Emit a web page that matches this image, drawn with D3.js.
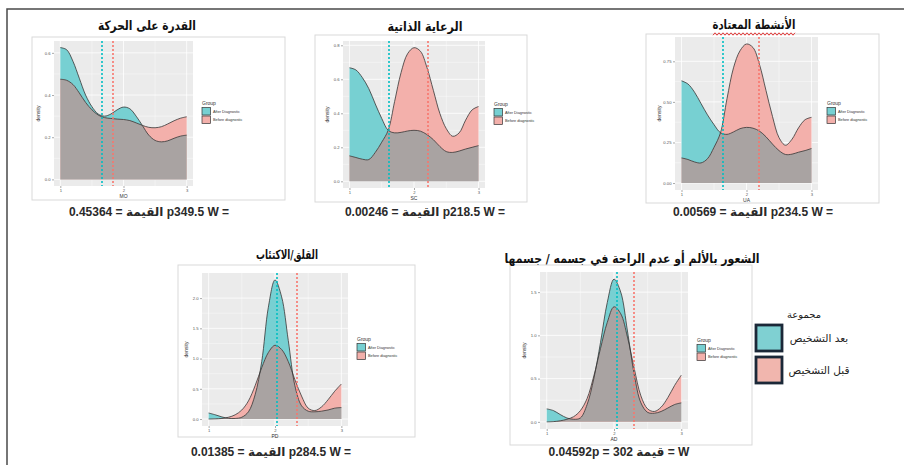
<!DOCTYPE html>
<html>
<head>
<meta charset="utf-8">
<script src="https://cdn.jsdelivr.net/npm/d3@7"></script>
<style>
  body { margin: 0; background: #fff; }
  svg { display: block; }
</style>
</head>
<body>
<div id="chart"></div>
<script>
// ---- data ----
// x positions where the density curves were read (same for every panel)
const gridX = [1.0, 1.1, 1.2, 1.3, 1.4, 1.5, 1.6, 1.7, 1.8, 1.9, 2.0,
               2.1, 2.2, 2.3, 2.4, 2.5, 2.6, 2.7, 2.8, 2.9, 3.0];

const panelVars = ["MO", "SC", "UA", "PD", "AD"];
const panelTitles = [
  "القدرة على الحركة",
  "الرعاية الذاتية",
  "الأنشطة المعتادة",
  "القلق/الاكتئاب",
  "الشعور بالألم أو عدم الراحة في جسمه / جسمها"
];
const captions = [
  "0.45364 = القيمة p349.5 W =",
  "0.00246 = القيمة p218.5 W =",
  "0.00569 = القيمة p234.5 W =",
  "0.01385 = القيمة p284.5 W =",
  "0.04592p =  302 قيمة = W"
];

// After Diagnostic densities
const afterMO = [0.625, 0.615, 0.56, 0.48, 0.40, 0.345, 0.31, 0.30, 0.31, 0.33, 0.343,
                 0.335, 0.30, 0.255, 0.21, 0.185, 0.178, 0.183, 0.195, 0.205, 0.21];
const afterSC = [0.668, 0.655, 0.61, 0.545, 0.455, 0.37, 0.30, 0.285, 0.288, 0.296, 0.30,
                 0.295, 0.275, 0.245, 0.205, 0.175, 0.17, 0.178, 0.19, 0.20, 0.21];
const afterUA = [0.63, 0.61, 0.56, 0.49, 0.42, 0.36, 0.31, 0.30, 0.315, 0.335, 0.343,
                 0.338, 0.32, 0.285, 0.24, 0.20, 0.176, 0.178, 0.19, 0.20, 0.213];
const afterPD = [0.10, 0.07, 0.035, 0.012, 0.01, 0.03, 0.12, 0.40, 0.95, 1.85, 2.30,
                 2.02, 1.30, 0.55, 0.22, 0.13, 0.12, 0.13, 0.15, 0.18, 0.19];
const afterAD = [0.15, 0.13, 0.085, 0.045, 0.03, 0.045, 0.20, 0.50, 0.92, 1.38, 1.65,
                 1.50, 1.05, 0.55, 0.22, 0.11, 0.10, 0.12, 0.16, 0.20, 0.22];

// Before diagnostic densities
const beforeMO = [0.475, 0.47, 0.45, 0.41, 0.365, 0.33, 0.305, 0.293, 0.289, 0.286, 0.284,
                  0.279, 0.268, 0.256, 0.247, 0.245, 0.25, 0.263, 0.278, 0.29, 0.297];
const beforeSC = [0.15, 0.14, 0.13, 0.128, 0.17, 0.23, 0.30, 0.47, 0.64, 0.75, 0.786,
                  0.765, 0.67, 0.535, 0.40, 0.31, 0.265, 0.285, 0.36, 0.42, 0.44];
const beforeUA = [0.155, 0.145, 0.13, 0.124, 0.15, 0.22, 0.31, 0.52, 0.71, 0.815, 0.857,
                  0.835, 0.73, 0.57, 0.41, 0.28, 0.233, 0.27, 0.34, 0.39, 0.405];
const beforePD = [0.0, 0.003, 0.01, 0.03, 0.07, 0.15, 0.30, 0.55, 0.85, 1.10, 1.22,
                  1.15, 0.95, 0.65, 0.38, 0.18, 0.14, 0.20, 0.32, 0.46, 0.58];
const beforeAD = [0.0, 0.003, 0.012, 0.03, 0.06, 0.13, 0.27, 0.53, 0.85, 1.15, 1.33,
                  1.25, 0.98, 0.62, 0.30, 0.15, 0.12, 0.17, 0.28, 0.42, 0.54];

const afterSeries = [afterMO, afterSC, afterUA, afterPD, afterAD];
const beforeSeries = [beforeMO, beforeSC, beforeUA, beforePD, beforeAD];

// group means (dashed lines)
const meanAfter = [1.66, 1.605, 1.64, 2.035, 2.04];
const meanBefore = [1.83, 2.22, 2.19, 2.33, 2.29];

const xTicks = [1, 2, 3];
const yTicks = [
  [0, 0.2, 0.4, 0.6],
  [0, 0.2, 0.4, 0.6, 0.8],
  [0, 0.25, 0.5, 0.75],
  [0, 0.5, 1, 1.5, 2],
  [0, 0.5, 1, 1.5]
];
const yFormats = [".1f", ".1f", ".2f", ".1f", ".1f"];

const groupLabels = ["After Diagnostic", "Before diagnostic"];
const groupLabelsAr = ["بعد التشخيص", "قبل التشخيص"];
const groupTitleAr = "مجموعة";

// ---- layout ----
const W = 904, H = 465;
const plotBox = [[54, 41, 193, 186], [343, 41, 485, 188], [675, 37, 818, 190],
                 [202, 273, 348, 426], [540, 272, 688, 429]];
const frameBox = [[32, 37, 285, 200], [315, 35, 527, 202], [646, 34, 879, 203],
                  [178, 265, 415, 437], [510, 265, 752, 445]];
const titlePos = [[147, 30], [425, 31], [754, 29], [287, 259], [632, 263]];
const titleWidth = [98, 75, 83, 62, 255];
const captionPos = [[149, 216], [425, 216], [753, 216], [271, 456], [619, 456]];

const teal = "#00BFC4", salmon = "#F8766D";
const fillAfter = "#77d0d2", fillBefore = "#f3b0ab", fillBoth = "#a9a3a2";
const arFont = "'DejaVu Sans', sans-serif";
const latFont = "'Liberation Sans', Arial, sans-serif";

const svg = d3.select("#chart").append("svg")
  .attr("width", W).attr("height", H);
const defs = svg.append("defs");

// outer frame (only top and left edges show)
svg.append("path")
  .attr("d", `M7,${H} L7,9 L${W},9`)
  .attr("fill", "none").attr("stroke", "#4a4a4a").attr("stroke-width", 1.5);

panelVars.forEach((v, i) => {
  const [x0, y0, x1, y1] = plotBox[i];
  const [fx0, fy0, fx1, fy1] = frameBox[i];
  const g = svg.append("g");

  g.append("rect")
    .attr("x", fx0).attr("y", fy0).attr("width", fx1 - fx0).attr("height", fy1 - fy0)
    .attr("fill", "#fff").attr("stroke", "#d9d9d9").attr("stroke-width", 1);

  const x = d3.scaleLinear().domain([0.9, 3.1]).range([x0, x1]);
  const ymax = d3.max(afterSeries[i].concat(beforeSeries[i]));
  const y = d3.scaleLinear().domain([-0.05 * ymax, 1.05 * ymax]).range([y1, y0]);

  // panel background + grid
  g.append("rect")
    .attr("x", x0).attr("y", y0).attr("width", x1 - x0).attr("height", y1 - y0)
    .attr("fill", "#EBEBEB");

  const yt = yTicks[i];
  const minorY = d3.pairs(yt).map(([a, b]) => (a + b) / 2);
  const minorX = d3.pairs(xTicks).map(([a, b]) => (a + b) / 2);
  g.selectAll(".gmy").data(minorY).join("line")
    .attr("x1", x0).attr("x2", x1).attr("y1", d => y(d)).attr("y2", d => y(d))
    .attr("stroke", "#fff").attr("stroke-width", 0.4);
  g.selectAll(".gmx").data(minorX).join("line")
    .attr("y1", y0).attr("y2", y1).attr("x1", d => x(d)).attr("x2", d => x(d))
    .attr("stroke", "#fff").attr("stroke-width", 0.4);
  g.selectAll(".gy").data(yt).join("line")
    .attr("x1", x0).attr("x2", x1).attr("y1", d => y(d)).attr("y2", d => y(d))
    .attr("stroke", "#fff").attr("stroke-width", 0.8);
  g.selectAll(".gx").data(xTicks).join("line")
    .attr("y1", y0).attr("y2", y1).attr("x1", d => x(d)).attr("x2", d => x(d))
    .attr("stroke", "#fff").attr("stroke-width", 0.8);

  // density areas: after, before, and the overlap (before clipped to after)
  const area = d3.area()
    .x(d => x(d[0])).y0(y(0)).y1(d => y(d[1]))
    .curve(d3.curveCatmullRom);
  const line = d3.line()
    .x(d => x(d[0])).y(d => y(d[1]))
    .curve(d3.curveCatmullRom);
  const ptsA = gridX.map((xv, j) => [xv, afterSeries[i][j]]);
  const ptsB = gridX.map((xv, j) => [xv, beforeSeries[i][j]]);

  defs.append("clipPath").attr("id", "clipA" + i)
    .append("path").attr("d", area(ptsA));

  g.append("path").attr("d", area(ptsA)).attr("fill", fillAfter);
  g.append("path").attr("d", area(ptsB)).attr("fill", fillBefore);
  g.append("path").attr("d", area(ptsB)).attr("fill", fillBoth)
    .attr("clip-path", `url(#clipA${i})`);
  [ptsA, ptsB].forEach(p => {
    g.append("path").attr("d", line(p))
      .attr("fill", "none").attr("stroke", "#363636").attr("stroke-width", 0.8);
  });

  // mean lines (centred on a pixel boundary so they cover two columns)
  const lineCols = [teal, salmon];
  [meanAfter[i], meanBefore[i]].forEach((m, k) => {
    const px = Math.round(x(m));
    g.append("line")
      .attr("x1", px).attr("x2", px).attr("y1", y0).attr("y2", y1)
      .attr("stroke", lineCols[k]).attr("stroke-width", 1.6)
      .attr("stroke-dasharray", "2,2");
  });

  // axes
  const xAxis = g.append("g").attr("transform", `translate(0,${y1})`)
    .call(d3.axisBottom(x).tickValues(xTicks).tickSize(2).tickPadding(1.5).tickFormat(d3.format("d")));
  const yAxis = g.append("g").attr("transform", `translate(${x0},0)`)
    .call(d3.axisLeft(y).tickValues(yt).tickSize(2).tickPadding(1.5).tickFormat(d3.format(yFormats[i])));
  [xAxis, yAxis].forEach(a => {
    a.select(".domain").remove();
    a.selectAll(".tick line").attr("stroke", "#555").attr("stroke-width", 0.5);
    a.selectAll(".tick text").attr("fill", "#555").attr("font-size", 4.2)
      .attr("font-family", latFont);
  });

  g.append("text")
    .attr("x", (x0 + x1) / 2).attr("y", y1 + 12)
    .attr("text-anchor", "middle").attr("font-size", 5)
    .attr("font-family", latFont).attr("fill", "#333")
    .text(v);
  g.append("text")
    .attr("transform", `translate(${x0 - 14},${(y0 + y1) / 2}) rotate(-90)`)
    .attr("text-anchor", "middle").attr("font-size", 5)
    .attr("font-family", latFont).attr("fill", "#333")
    .text("density");

  // ggplot legend
  const lx = x1 + 9, ly = (y0 + y1) / 2 - 9;
  const keyFill = [fillAfter, fillBefore];
  g.append("text")
    .attr("x", lx).attr("y", ly).attr("font-size", 5)
    .attr("font-family", latFont).attr("fill", "#333")
    .text("Group");
  groupLabels.forEach((lab, k) => {
    g.append("rect")
      .attr("x", lx).attr("y", ly + 3 + k * 8.5).attr("width", 8.5).attr("height", 7.5)
      .attr("fill", keyFill[k])
      .attr("stroke", "#333").attr("stroke-width", 0.7);
    g.append("text")
      .attr("x", lx + 11).attr("y", ly + 8.3 + k * 8.5).attr("font-size", 3.8)
      .attr("font-family", latFont).attr("fill", "#333")
      .text(lab);
  });

  // Arabic title
  svg.append("text")
    .attr("x", titlePos[i][0]).attr("y", titlePos[i][1])
    .attr("text-anchor", "middle").attr("direction", "rtl")
    .attr("font-family", arFont).attr("font-weight", "bold").attr("font-size", 13)
    .attr("textLength", titleWidth[i]).attr("lengthAdjust", "spacingAndGlyphs")
    .attr("fill", "#111")
    .text(panelTitles[i]);

  // caption with test result
  svg.append("text")
    .attr("x", captionPos[i][0]).attr("y", captionPos[i][1])
    .attr("text-anchor", "middle").attr("direction", "ltr")
    .attr("font-family", "'Liberation Sans', " + arFont).attr("font-weight", "bold")
    .attr("font-size", 12).attr("fill", "#2a2a2a")
    .text(captions[i]);
});

// spell-check style wavy underline under the third title
const wave = d3.range(713, 796, 2).map((xv, j) => [xv, 34 + (j % 2 ? -1.2 : 1.2)]);
svg.append("path")
  .attr("d", d3.line()(wave))
  .attr("fill", "none").attr("stroke", "#e02828").attr("stroke-width", 0.9);

// Arabic legend on the right
const lg = svg.append("g");
lg.append("text")
  .attr("x", 804).attr("y", 318).attr("text-anchor", "middle").attr("direction", "rtl")
  .attr("font-family", arFont).attr("font-size", 10).attr("fill", "#222")
  .text(groupTitleAr);
groupLabelsAr.forEach((lab, k) => {
  lg.append("rect")
    .attr("x", 756).attr("y", 325 + k * 32).attr("width", 26).attr("height", 26)
    .attr("fill", k === 0 ? "#7fd0d2" : "#f1b6ae")
    .attr("stroke", "#1b2838").attr("stroke-width", 2.8);
  lg.append("text")
    .attr("x", 819).attr("y", 342 + k * 32).attr("text-anchor", "middle").attr("direction", "rtl")
    .attr("font-family", arFont).attr("font-size", 10.5).attr("fill", "#222")
    .text(lab);
});
</script>
</body>
</html>
